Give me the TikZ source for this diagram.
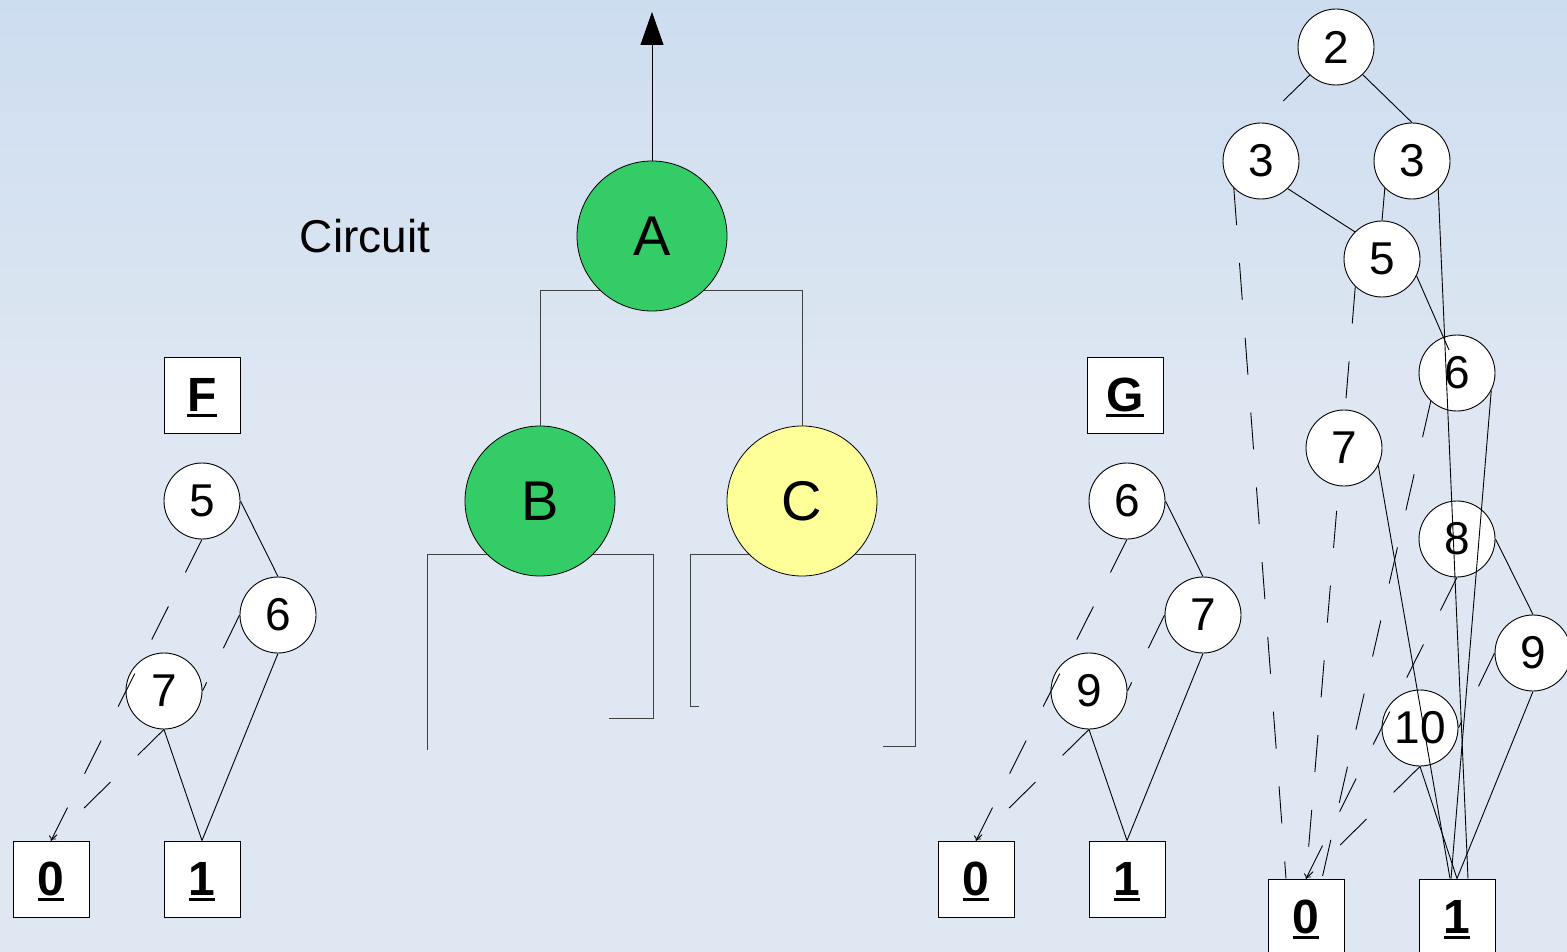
\documentclass[tikz,border=0pt]{standalone}
\usepackage{fontspec}
\setmainfont{Liberation Sans}
\usetikzlibrary{arrows.meta,calc}
\definecolor{bgtop}{RGB}{205,221,240}
\definecolor{bgbot}{RGB}{223,231,242}
\definecolor{gategreen}{RGB}{51,204,102}
\definecolor{gateyellow}{RGB}{255,255,153}
% bold, underlined label of a terminal box
\newcommand\termlabel[1]{\setbox0\hbox{\bfseries #1}\copy0\llap{\rule[-5pt]{\wd0}{3pt}}}
\tikzset{
  bdd/.style={circle,draw=black,line width=0.9pt,fill=white,minimum size=76pt,inner sep=0pt,
    font=\fontsize{46}{50}\selectfont},
  term/.style={rectangle,draw=black,line width=0.9pt,fill=white,minimum size=76pt,inner sep=0pt,
    font=\fontsize{48}{50}\selectfont\bfseries,text depth=0pt},
  gate/.style={circle,draw=black,line width=0.8pt,minimum size=150pt,inner sep=0pt,
    font=\fontsize{56}{60}\selectfont},
  hi/.style={draw=black,line width=0.9pt},
  lo/.style={draw=black,line width=0.9pt,dash pattern=on 37pt off 38pt},
  lotip/.style={lo,-{To[length=4pt,width=8pt]}},
  wire/.style={draw=black!75,line width=0.9pt},
}
\begin{document}
\begin{tikzpicture}[x=1pt,y=-1pt]
\useasboundingbox (0,0) rectangle (1567,952);
% slide background
\fill[bgbot] (0,0) rectangle (1567,952);
\shade[top color=bgtop,bottom color=bgbot] (0,0) rectangle (1567,420);

% ---- circuit ----
\node[font=\fontsize{46}{50}\selectfont] (title) at (365,236) {Circuit};
\node[gate,fill=gategreen] (A) at (652,236) {A};
\node[gate,fill=gategreen] (B) at (540,501) {B};
\node[gate,fill=gateyellow] (C) at (802,501) {C};
\coordinate (out) at (652,12);
\draw[line width=1pt,-{Triangle[length=33pt,width=23pt]}] (A.north) -- (out);
\draw[wire] (A.-134) -| (B.north);
\draw[wire] (A.-46) -| (C.north);
\coordinate (bl) at (427,750);
\coordinate (brc) at (653,718);
\coordinate (br) at (609,718);
\coordinate (clc) at (690,706);
\coordinate (cl) at (699,706);
\coordinate (crc) at (915,746);
\coordinate (cr) at (883,746);
\draw[wire] (B.-135) -| (bl);
\draw[wire] (B.-45) -| (brc) -- (br);
\draw[wire] (C.-135) -| (clc) -- (cl);
\draw[wire] (C.-45) -| (crc) -- (cr);

% ---- BDD of F ----
\node[term] (Fl) at (202,395) {\termlabel{F}};
\node[bdd] (f5) at (202,501) {5};
\node[bdd] (f6) at (278,615) {6};
\node[bdd] (f7) at (164,691) {7};
\node[term] (f0) at (51,879) {\termlabel{0}};
\node[term] (f1) at (202,879) {\termlabel{1}};
\draw[hi] (f5.east) -- (f6.north);
\draw[lotip] (f5.south) -- (f0.north);
\draw[lo] (f6.west) -- (f7.east);
\draw[lo] (f7.south) -- (f0.north);
\draw[hi] (f7.south) -- (f1.north);
\draw[hi] (f6.south) -- (f1.north);

% ---- BDD of G ----
\node[term] (Gl) at (1125,395) {\termlabel{G}};
\node[bdd] (g6) at (1127,501) {6};
\node[bdd] (g7) at (1203,615) {7};
\node[bdd] (g9) at (1089,691) {9};
\node[term] (g0) at (976,879) {\termlabel{0}};
\node[term] (g1) at (1127,879) {\termlabel{1}};
\draw[hi] (g6.east) -- (g7.north);
\draw[lotip] (g6.south) -- (g0.north);
\draw[lo] (g7.west) -- (g9.east);
\draw[lo] (g9.south) -- (g0.north);
\draw[hi] (g9.south) -- (g1.north);
\draw[hi] (g7.south) -- (g1.north);

% ---- combined BDD ----
\node[bdd] (r2) at (1336,47) {2};
\node[bdd] (r3a) at (1261,161) {3};
\node[bdd] (r3b) at (1412,161) {3};
\node[bdd] (r5) at (1382,259) {5};
\node[term] (r0) at (1306,917) {\termlabel{0}};
\node[term] (r1) at (1457,917) {\termlabel{1}};
% this low edge runs behind node 7
\draw[lo] (r5.-134) -- (r0.north);
\node[bdd] (r6) at (1457,373) {6};
\node[bdd] (r7) at (1344,448) {7};
\node[bdd] (r8) at (1457,539) {8};
\node[bdd] (r9) at (1533,653) {9};
\node[bdd] (r10) at (1420,728) {10};
\draw[lo] (r2.-133) -- (r3a.north);
\draw[hi] (r2.-46) -- (r3b.north);
\draw[hi] (r3a.-46) -- (r5.135);
\draw[lo] (r3a.-135) -- ($(r0.north)+(-20,0)$);
\draw[hi] (r3b.-135) -- (r5.north);
\draw[hi] (r3b.-47) -- ($(r1.north)+(11,0)$);
\draw[hi] (r5.-26) -- ($(r6.center)+(-8,-23)$);
\draw[lo] (r6.-133) -- ($(r0.north)+(16,0)$);
\draw[hi] (r6.-27) -- ($(r1.north)+(-6,0)$);
\draw[hi] (r7.-27) -- ($(r1.north)+(-7,0)$);
\draw[hi] (r8.east) -- (r9.north);
\draw[lotip] (r8.south) -- (r0.north);
\draw[hi] (r9.south) -- (r1.north);
\draw[lo] (r9.west) -- (r10.east);
\draw[hi] (r10.south) -- (r1.north);
\draw[lo] (r10.south) -- (r0.north);
\end{tikzpicture}
\end{document}
